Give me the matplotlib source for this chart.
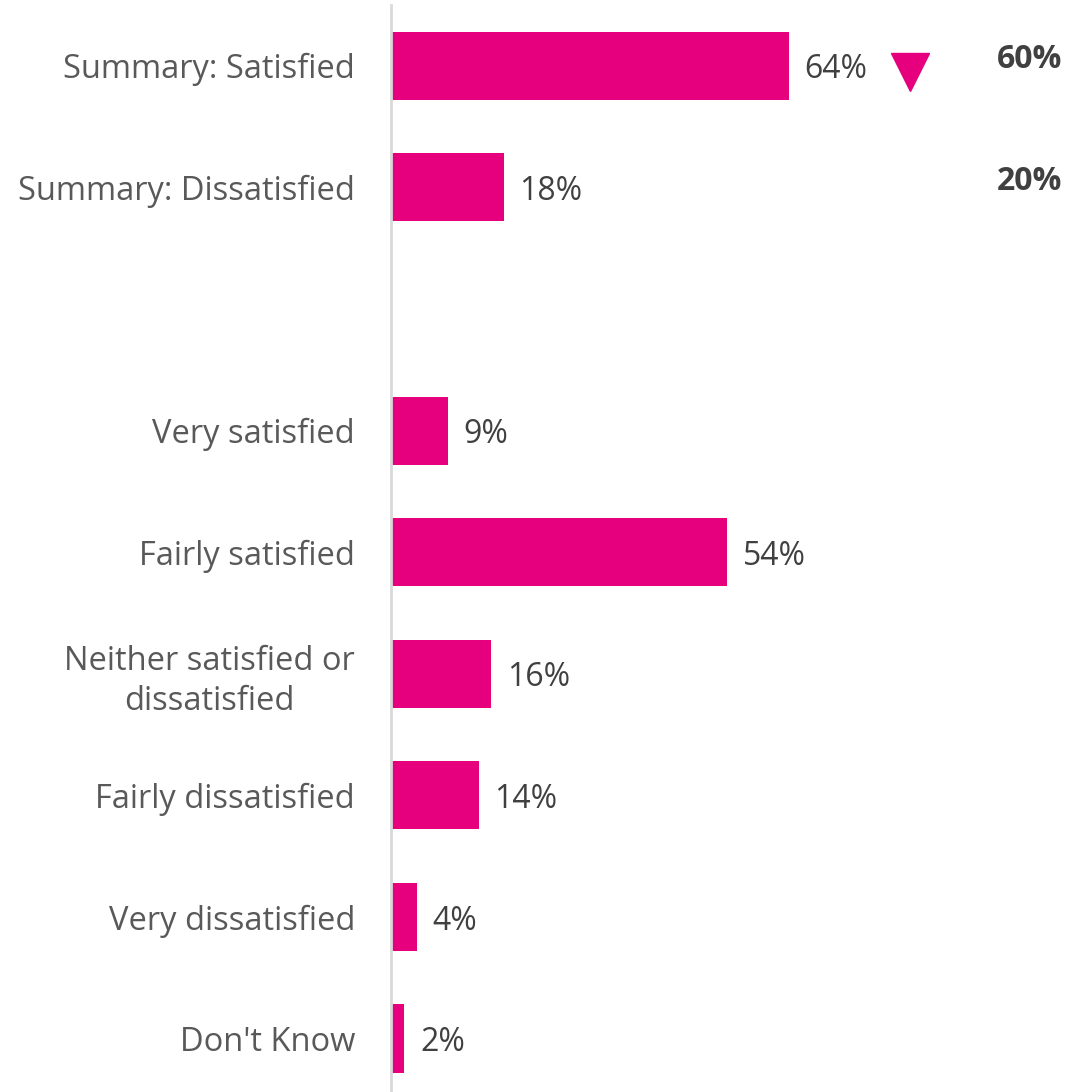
import matplotlib.pyplot as plt
import numpy as np

# data
labels = ["Summary: Satisfied", "Summary: Dissatisfied", "",
          "Very satisfied", "Fairly satisfied", "Neither satisfied or\ndissatisfied",
          "Fairly dissatisfied", "Very dissatisfied", "Don't Know"]
values = [64, 18, None, 9, 54, 16, 14, 4, 2]
prev_labels = ["60%", "20%"]
change_marker = [True, False]   # down arrow shown on satisfied row

pink = "#E6007E"
plt.rcParams['font.family'] = ['Open Sans', 'DejaVu Sans']

fig = plt.figure(figsize=(10.91, 10.92), dpi=100)
ax = fig.add_axes([0.3584, 0.0, 1 - 0.3584, 0.9954])

px_per_pct = 6.2
ax.set_xlim(0, 700 / px_per_pct)
ax.set_ylim(8.44, -0.5)

ypos = np.arange(len(labels))
for y, v in zip(ypos, values):
    if v is None:
        continue
    ax.barh(y, v, height=0.56, color=pink, left=0.15)
    ax.annotate(f"{v}%", (v, y), xytext=(12, -3), textcoords="offset points",
                va="center", ha="left", fontsize=23, color="#404040")

ax.set_yticks(ypos)
ax.set_yticklabels(labels, fontsize=23.5, color="#595959", multialignment="center",
                   linespacing=1.3)
ax.tick_params(axis="y", length=0, pad=26)
ax.set_xticks([])

for s in ["top", "right", "bottom"]:
    ax.spines[s].set_visible(False)
ax.spines["left"].set_color("#d9d9d9")
ax.spines["left"].set_linewidth(2)

# previous wave column
for i, (t, m) in enumerate(zip(prev_labels, change_marker)):
    ax.text(108.2, i - 0.05, t, ha="right", va="center", fontsize=23,
            fontweight="bold", color="#404040")
    if m:
        ax.plot(83.7, i + 0.05, marker="v", markersize=28, color=pink, clip_on=False)

fig.savefig("out.png", dpi=100)
